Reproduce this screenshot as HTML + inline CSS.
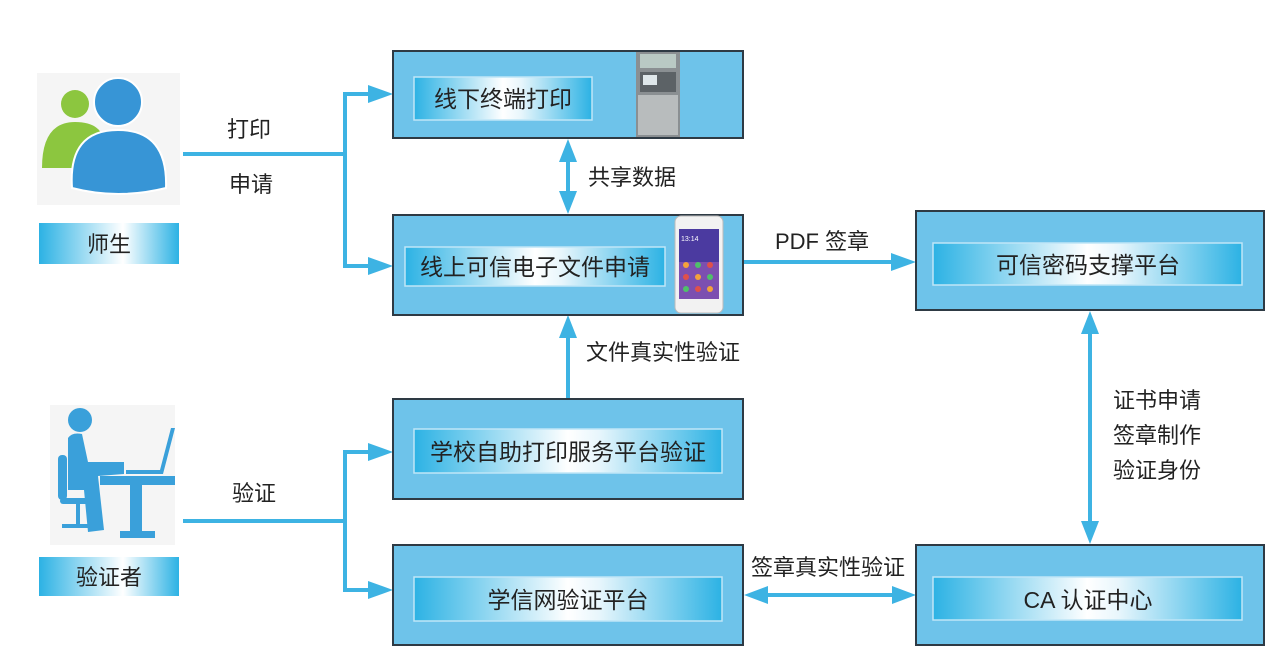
<!DOCTYPE html>
<html><head><meta charset="utf-8"><style>
html,body{margin:0;padding:0;background:#fff;}
svg{display:block;}
text{font-family:"Liberation Sans","Noto Sans CJK SC",sans-serif;fill:#222;}
</style></head><body>
<svg width="1280" height="667" viewBox="0 0 1280 667" xmlns="http://www.w3.org/2000/svg">
<defs>
<linearGradient id="g" x1="0" y1="0" x2="1" y2="0">
<stop offset="0" stop-color="#2cb2e4"/><stop offset="0.5" stop-color="#ffffff"/><stop offset="0.6" stop-color="#e8f6fc"/><stop offset="1" stop-color="#2cb2e4"/>
</linearGradient>
<linearGradient id="g2" x1="0" y1="0" x2="1" y2="0">
<stop offset="0" stop-color="#2cb2e4"/><stop offset="0.6" stop-color="#ffffff"/><stop offset="1" stop-color="#2cb2e4"/>
</linearGradient>
</defs>
<g fill="#3db3e3" stroke="none">
<rect x="183" y="152" width="164" height="4"/>
<rect x="343" y="92" width="4" height="176"/>
<rect x="345" y="92" width="25" height="4"/><polygon points="368,85 393,94 368,103"/>
<rect x="345" y="264" width="25" height="4"/><polygon points="368,257 393,266 368,275"/>
<rect x="183" y="519" width="164" height="4"/>
<rect x="343" y="450" width="4" height="142"/>
<rect x="345" y="450" width="25" height="4"/><polygon points="368,443 393,452 368,461"/>
<rect x="345" y="588" width="25" height="4"/><polygon points="368,581 393,590 368,599"/>
<rect x="566" y="158" width="4" height="38"/>
<polygon points="559,162 568,139 577,162"/><polygon points="559,191 568,214 577,191"/>
<rect x="566" y="335" width="4" height="65"/><polygon points="559,338 568,315 577,338"/>
<rect x="743" y="260" width="150" height="4"/><polygon points="891,253 916,262 891,271"/>
<rect x="1088" y="330" width="4" height="195"/>
<polygon points="1081,334 1090,311 1099,334"/><polygon points="1081,521 1090,544 1099,521"/>
<rect x="765" y="593" width="130" height="4"/>
<polygon points="768,586 744,595 768,604"/><polygon points="892,586 916,595 892,604"/>
</g>
<g fill="#6ec3ea" stroke="#2e3a44" stroke-width="2">
<rect x="393" y="51" width="350" height="87"/>
<rect x="393" y="215" width="350" height="100"/>
<rect x="393" y="399" width="350" height="100"/>
<rect x="393" y="545" width="350" height="100"/>
<rect x="916" y="211" width="348" height="99"/>
<rect x="916" y="545" width="348" height="100"/>
</g>
<g fill="url(#g)" stroke="#bfe6f7" stroke-width="1.5">
<rect x="414" y="77" width="178" height="43"/>
<rect x="405" y="247" width="260" height="39"/>
<rect x="414" y="429" width="308" height="44"/>
<rect x="414" y="577" width="308" height="44"/>
<rect x="933" y="243" width="309" height="42"/>
<rect x="933" y="577" width="309" height="43"/>
</g>
<rect x="636" y="52" width="44" height="85" fill="#8a8f92"/>
<rect x="640" y="54" width="36" height="14" fill="#b9c9c4"/>
<rect x="640" y="72" width="36" height="20" fill="#5c6266"/>
<rect x="643" y="75" width="14" height="10" fill="#dfe7ea"/>
<rect x="638" y="95" width="40" height="40" fill="#b8bcbd"/>
<rect x="675" y="216" width="48" height="97" rx="6" fill="#f2f2f2" stroke="#bbb"/>
<rect x="679" y="229" width="40" height="70" fill="#4b3aa0"/>
<rect x="679" y="262" width="40" height="37" fill="#7c4fb0"/>
<g fill="#f4a23a"><circle cx="686" cy="265" r="3"/><circle cx="698" cy="277" r="3"/><circle cx="710" cy="289" r="3"/></g>
<g fill="#4fc06a"><circle cx="698" cy="265" r="3"/><circle cx="686" cy="289" r="3"/><circle cx="710" cy="277" r="3"/></g>
<g fill="#e0504a"><circle cx="710" cy="265" r="3"/><circle cx="686" cy="277" r="3"/><circle cx="698" cy="289" r="3"/></g>
<text x="681" y="241" font-size="7" style="fill:#fff">13:14</text>
<rect x="37" y="73" width="143" height="132" fill="#f5f5f5"/>
<circle cx="75" cy="104" r="14" fill="#8cc63f"/>
<path d="M42,168 Q42,122 75,122 Q100,122 104,140 L90,168 Z" fill="#8cc63f"/>
<circle cx="118" cy="102" r="24" fill="#3795d6" stroke="#fff" stroke-width="2"/>
<path d="M72,188 Q68,130 118,130 Q168,130 166,188 Q118,200 72,188 Z" fill="#3795d6" stroke="#fff" stroke-width="2"/>
<rect x="39" y="223" width="140" height="41" fill="url(#g2)"/>
<text x="109" y="252" font-size="22" text-anchor="middle">师生</text>
<rect x="50" y="405" width="125" height="140" fill="#f5f5f5"/>
<g fill="#3aa0da">
<circle cx="80" cy="420" r="12"/>
<path d="M68,438 Q72,432 82,434 L88,462 L124,462 L124,474 L98,476 L104,530 L88,532 L84,490 L68,490 Z"/>
<rect x="58" y="455" width="9" height="45" rx="4"/>
<rect x="60" y="498" width="40" height="6" rx="3"/>
<rect x="76" y="502" width="4" height="24"/>
<rect x="62" y="524" width="32" height="4"/>
<rect x="100" y="476" width="75" height="9"/>
<rect x="130" y="485" width="12" height="50"/>
<rect x="120" y="531" width="35" height="7"/>
<polygon points="126,474 163,474 175,428 171,428 160,470 126,470"/>
</g>
<rect x="39" y="557" width="140" height="39" fill="url(#g2)"/>
<text x="109" y="585" font-size="22" text-anchor="middle">验证者</text>
<g font-size="23" text-anchor="middle">
<text x="503" y="107">线下终端打印</text>
<text x="535" y="275">线上可信电子文件申请</text>
<text x="568" y="460">学校自助打印服务平台验证</text>
<text x="568" y="608">学信网验证平台</text>
<text x="1088" y="273">可信密码支撑平台</text>
<text x="1088" y="608">CA 认证中心</text>
</g>
<g font-size="22">
<text x="227" y="137">打印</text>
<text x="229" y="192">申请</text>
<text x="588" y="185">共享数据</text>
<text x="586" y="360">文件真实性验证</text>
<text x="775" y="249">PDF 签章</text>
<text x="1113" y="408">证书申请</text>
<text x="1113" y="443">签章制作</text>
<text x="1113" y="478">验证身份</text>
<text x="232" y="501">验证</text>
<text x="751" y="575">签章真实性验证</text>
</g>
</svg>
</body></html>
